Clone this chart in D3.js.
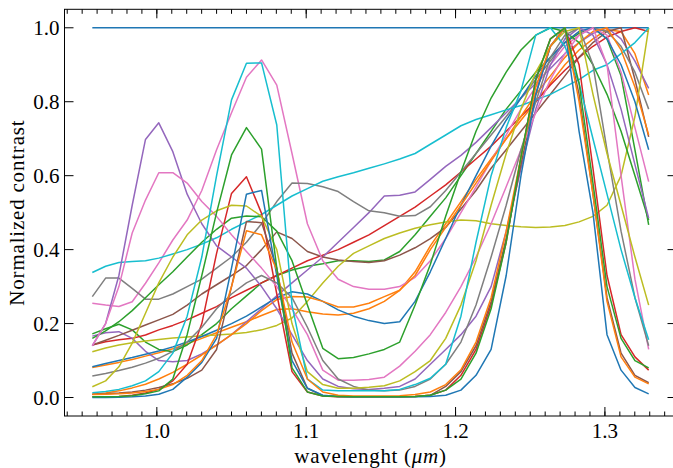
<!DOCTYPE html>
<html><head><meta charset="utf-8">
<script src="https://cdn.jsdelivr.net/npm/d3@7"></script>
<style>body{margin:0;background:#fff}</style>
</head><body><svg id="c" width="673" height="468"></svg>
<script>
const wavelengths = [0.9568,0.9657,0.9746,0.9835,0.9924,1.0013,1.0107,1.0203,1.0301,1.0400,
  1.0500,1.0600,1.0701,1.0803,1.0905,1.1008,1.1111,1.1214,1.1317,1.1420,
  1.1523,1.1626,1.1729,1.1831,1.1934,1.2036,1.2137,1.2238,1.2339,1.2438,
  1.2537,1.2635,1.2732,1.2827,1.2920,1.3014,1.3108,1.3201,1.3293];
const xTickValues = [1.0,1.1,1.2,1.3];
const yTickValues = [0.0,0.2,0.4,0.6,0.8,1.0];

const s_blueFlat = [1,1,1,1,1,1,1,1,1,1, 1,1,1,1,1,1,1,1,1,1, 1,1,1,1,1,1,1,1,1,1, 1,1,1,1,1,1,1,1,1];
const s_orangeA = [.081,.088,.095,.103,.112,.121,.132,.145,.16,.175, .19,.205,.222,.238,.24,.232,.226,.223,.228,.24, .26,.29,.34,.41,.47,.53,.59,.645,.7,.75, .8,.85,.9,.94,.97,.995,.99,.93,.818];
const s_greenA = [.172,.186,.198,.183,.15,.13,.124,.142,.17,.2, .24,.275,.31,.33,.345,.355,.362,.37,.37,.368, .372,.395,.44,.49,.54,.6,.66,.72,.78,.83, .88,.92,.96,.985,1.0,.97,.87,.67,.467];
const s_redA = [.142,.151,.156,.16,.169,.183,.195,.21,.228,.246, .27,.29,.31,.33,.35,.37,.385,.4,.42,.44, .465,.49,.515,.545,.575,.61,.645,.68,.72,.76, .8,.845,.885,.92,.95,.975,.99,1.0,.99];
const s_purpleA = [.166,.175,.178,.16,.125,.1,.097,.1,.118,.142, .17,.205,.24,.275,.31,.345,.38,.42,.46,.5, .545,.547,.556,.59,.625,.655,.69,.73,.77,.81, .85,.89,.93,.96,.985,1.0,.97,.91,.836];
const s_brownA = [.142,.155,.168,.182,.196,.21,.225,.25,.28,.305, .33,.357,.4,.448,.43,.395,.38,.372,.368,.365, .37,.385,.405,.43,.46,.51,.56,.62,.67,.72, .77,.82,.87,.92,.96,.99,1.0,.86,.705];
const s_pinkA = [.255,.25,.246,.259,.309,.364,.426,.48,.56,.67, .77,.866,.913,.845,.66,.47,.37,.32,.3,.293, .293,.3,.325,.37,.43,.5,.57,.64,.71,.78, .84,.9,.95,.98,1.0,.98,.88,.73,.584];
const s_grayA = [.273,.323,.323,.295,.266,.266,.28,.3,.32,.35, .38,.42,.47,.53,.58,.579,.57,.557,.53,.505, .5,.49,.492,.516,.56,.61,.66,.71,.76,.81, .86,.91,.96,.99,1.0,.99,.95,.88,.78];
const s_oliveA = [.124,.134,.142,.148,.153,.157,.161,.164,.167,.169, .172,.176,.183,.195,.215,.26,.31,.355,.39,.41, .43,.445,.458,.467,.475,.48,.478,.47,.465,.462, .46,.461,.465,.475,.49,.52,.6,.76,1.0];
const s_cyanA = [.338,.355,.365,.368,.37,.377,.388,.4,.415,.432, .455,.475,.495,.52,.545,.565,.585,.597,.608,.62, .632,.645,.66,.685,.71,.735,.752,.765,.778,.79, .805,.82,.84,.86,.885,.9,.93,.96,1.0];
const s_blueB = [.083,.092,.1,.108,.117,.126,.137,.15,.165,.182, .2,.22,.245,.27,.286,.28,.26,.237,.22,.208, .2,.205,.26,.34,.43,.52,.6,.68,.75,.81, .87,.92,.96,.99,1.0,.97,.9,.8,.67];
const s_orangeB = [.009,.012,.018,.026,.036,.05,.068,.09,.115,.142, .17,.2,.235,.265,.273,.272,.26,.245,.245,.255, .273,.29,.33,.4,.46,.52,.58,.64,.7,.76, .82,.87,.92,.96,.99,1.0,.94,.84,.71];
const s_greenB = [.16,.18,.205,.235,.27,.305,.34,.38,.42,.455, .485,.491,.489,.45,.37,.25,.133,.105,.108,.118, .13,.15,.25,.36,.49,.61,.72,.81,.88,.94, .98,1.0,.99,.96,.9,.82,.72,.6,.48];
const s_redB = [.002,.002,.003,.006,.012,.022,.045,.09,.2,.39, .552,.597,.498,.28,.07,.015,.004,.002,.002,.002, .002,.002,.003,.006,.02,.06,.13,.25,.42,.65, .86,.97,1.0,.9,.62,.33,.17,.11,.074];
const s_purpleB = [.14,.2,.33,.52,.698,.743,.665,.55,.47,.41, .38,.35,.3,.24,.17,.1,.05,.03,.024,.022, .025,.03,.05,.09,.13,.17,.22,.3,.45,.62, .78,.9,.97,1.0,.98,.9,.78,.63,.485];
const s_brownB = [.009,.01,.012,.015,.02,.027,.037,.052,.074,.13, .3,.476,.473,.35,.12,.025,.005,.003,.002,.002, .002,.002,.003,.006,.03,.07,.14,.26,.43,.63, .82,.95,1.0,.82,.55,.27,.12,.06,.04];
const s_pinkB = [.14,.2,.3,.445,.534,.608,.608,.58,.53,.49, .44,.395,.35,.3,.24,.17,.074,.047,.047,.049, .055,.085,.125,.17,.23,.3,.38,.47,.57,.67, .77,.86,.93,.98,1.0,.9,.6,.32,.13];
const s_grayB = [.058,.065,.073,.082,.093,.106,.125,.15,.19,.24, .28,.31,.33,.31,.27,.19,.1,.05,.03,.02, .018,.02,.03,.05,.09,.15,.25,.38,.52,.67, .8,.92,.98,1.0,.9,.67,.45,.27,.14];
const s_oliveB = [.029,.045,.083,.147,.228,.31,.38,.44,.48,.505, .52,.518,.49,.4,.2,.07,.035,.025,.025,.028, .032,.045,.07,.1,.16,.25,.37,.52,.66,.78, .88,.95,.99,1.0,.82,.66,.52,.38,.25];
const s_cyanB = [.013,.016,.022,.032,.045,.07,.12,.22,.38,.6, .805,.904,.905,.737,.25,.05,.02,.018,.018,.018, .018,.022,.035,.052,.09,.22,.42,.6,.73,.83, .98,1.0,.95,.85,.7,.55,.4,.27,.156];
const s_blueC = [0,0,.001,.002,.004,.009,.022,.055,.095,.16, .35,.55,.56,.33,.1,.025,.006,.003,.002,.002, .002,.002,.002,.003,.006,.02,.06,.13,.33,.6, .82,.95,1.0,.72,.5,.17,.074,.027,.01];
const s_orangeC = [.008,.009,.01,.012,.016,.022,.035,.06,.1,.17, .3,.451,.44,.345,.15,.05,.015,.006,.004,.004, .004,.005,.008,.015,.035,.075,.15,.27,.45,.65, .84,.95,1.0,.8,.55,.26,.11,.055,.037];
const s_greenC = [.002,.002,.003,.005,.01,.018,.05,.17,.33,.5, .656,.73,.672,.35,.08,.015,.004,.003,.002,.002, .002,.002,.003,.006,.02,.05,.12,.24,.42,.65, .86,.97,1.0,.85,.58,.3,.16,.1,.08];

const series = [
  s_blueFlat, s_orangeA, s_greenA, s_redA, s_purpleA, s_brownA, s_pinkA, s_grayA, s_oliveA, s_cyanA,
  s_blueB, s_orangeB, s_greenB, s_redB, s_purpleB, s_brownB, s_pinkB, s_grayB, s_oliveB, s_cyanB,
  s_blueC, s_orangeC, s_greenC
];

const svg = d3.select('#c');
const xr = d3.extent(wavelengths), xm = (xr[1]-xr[0])*0.05;
const x = d3.scaleLinear().domain([xr[0]-xm, xr[1]+xm]).range([64.5, 676.5]);
const y = d3.scaleLinear().domain([-0.05, 1.05]).range([416, 9.3]);
const color = d3.scaleOrdinal(d3.schemeCategory10);

const line = d3.line().x((d,i)=>x(wavelengths[i])).y(d=>y(d));
svg.append('g').selectAll('path').data(series).join('path')
  .attr('d', d=>line(d)).attr('fill','none')
  .attr('stroke', (d,i)=>color(i % 10)).attr('stroke-width',1.5).attr('stroke-linejoin','round');

const [x0,x1] = x.range(), [y0,y1] = y.range();
svg.append('rect').attr('x',x0).attr('y',y1).attr('width',x1-x0).attr('height',y0-y1)
  .attr('fill','none').attr('stroke','#000').attr('stroke-width',1);

const minor = d3.range(94,135).map(d=>d/100);
const tk = svg.append('g').attr('stroke','#000').attr('stroke-width',1);
minor.forEach(v=>{ const px=x(v); tk.append('line').attr('x1',px).attr('x2',px).attr('y1',y0).attr('y2',y0-4.5);
  tk.append('line').attr('x1',px).attr('x2',px).attr('y1',y1).attr('y2',y1+4.5);});
xTickValues.forEach(v=>{ const px=x(v); tk.append('line').attr('x1',px).attr('x2',px).attr('y1',y0).attr('y2',y0-9);
  tk.append('line').attr('x1',px).attr('x2',px).attr('y1',y1).attr('y2',y1+9);});
yTickValues.forEach(v=>{ const py=y(v); tk.append('line').attr('x1',x0).attr('x2',x0+9).attr('y1',py).attr('y2',py);
  tk.append('line').attr('x1',x1).attr('x2',x1-9).attr('y1',py).attr('y2',py);});

const font = '"Liberation Serif", serif';
xTickValues.forEach(v=>{ svg.append('text').attr('x',x(v)).attr('y',y0+22).attr('text-anchor','middle')
  .style('font-family',font).style('font-size','21px').text(d3.format('.1f')(v)); });
yTickValues.forEach(v=>{ svg.append('text').attr('x',x0-5).attr('y',y(v)+7.5).attr('text-anchor','end')
  .style('font-family',font).style('font-size','21px').text(d3.format('.1f')(v)); });
const xl = svg.append('text').attr('x',(x0+x1)/2).attr('y',463).attr('text-anchor','middle')
  .style('font-family',font).style('font-size','21px').style('letter-spacing','0.7px');
xl.append('tspan').text('wavelenght (');
xl.append('tspan').style('font-style','italic').text('μm');
xl.append('tspan').text(')');
svg.append('text').attr('transform',`translate(24,${(y0+y1)/2}) rotate(-90)`).attr('text-anchor','middle')
  .style('font-family',font).style('font-size','21px').style('letter-spacing','0.8px').text('Normalized contrast');
</script></body></html>
